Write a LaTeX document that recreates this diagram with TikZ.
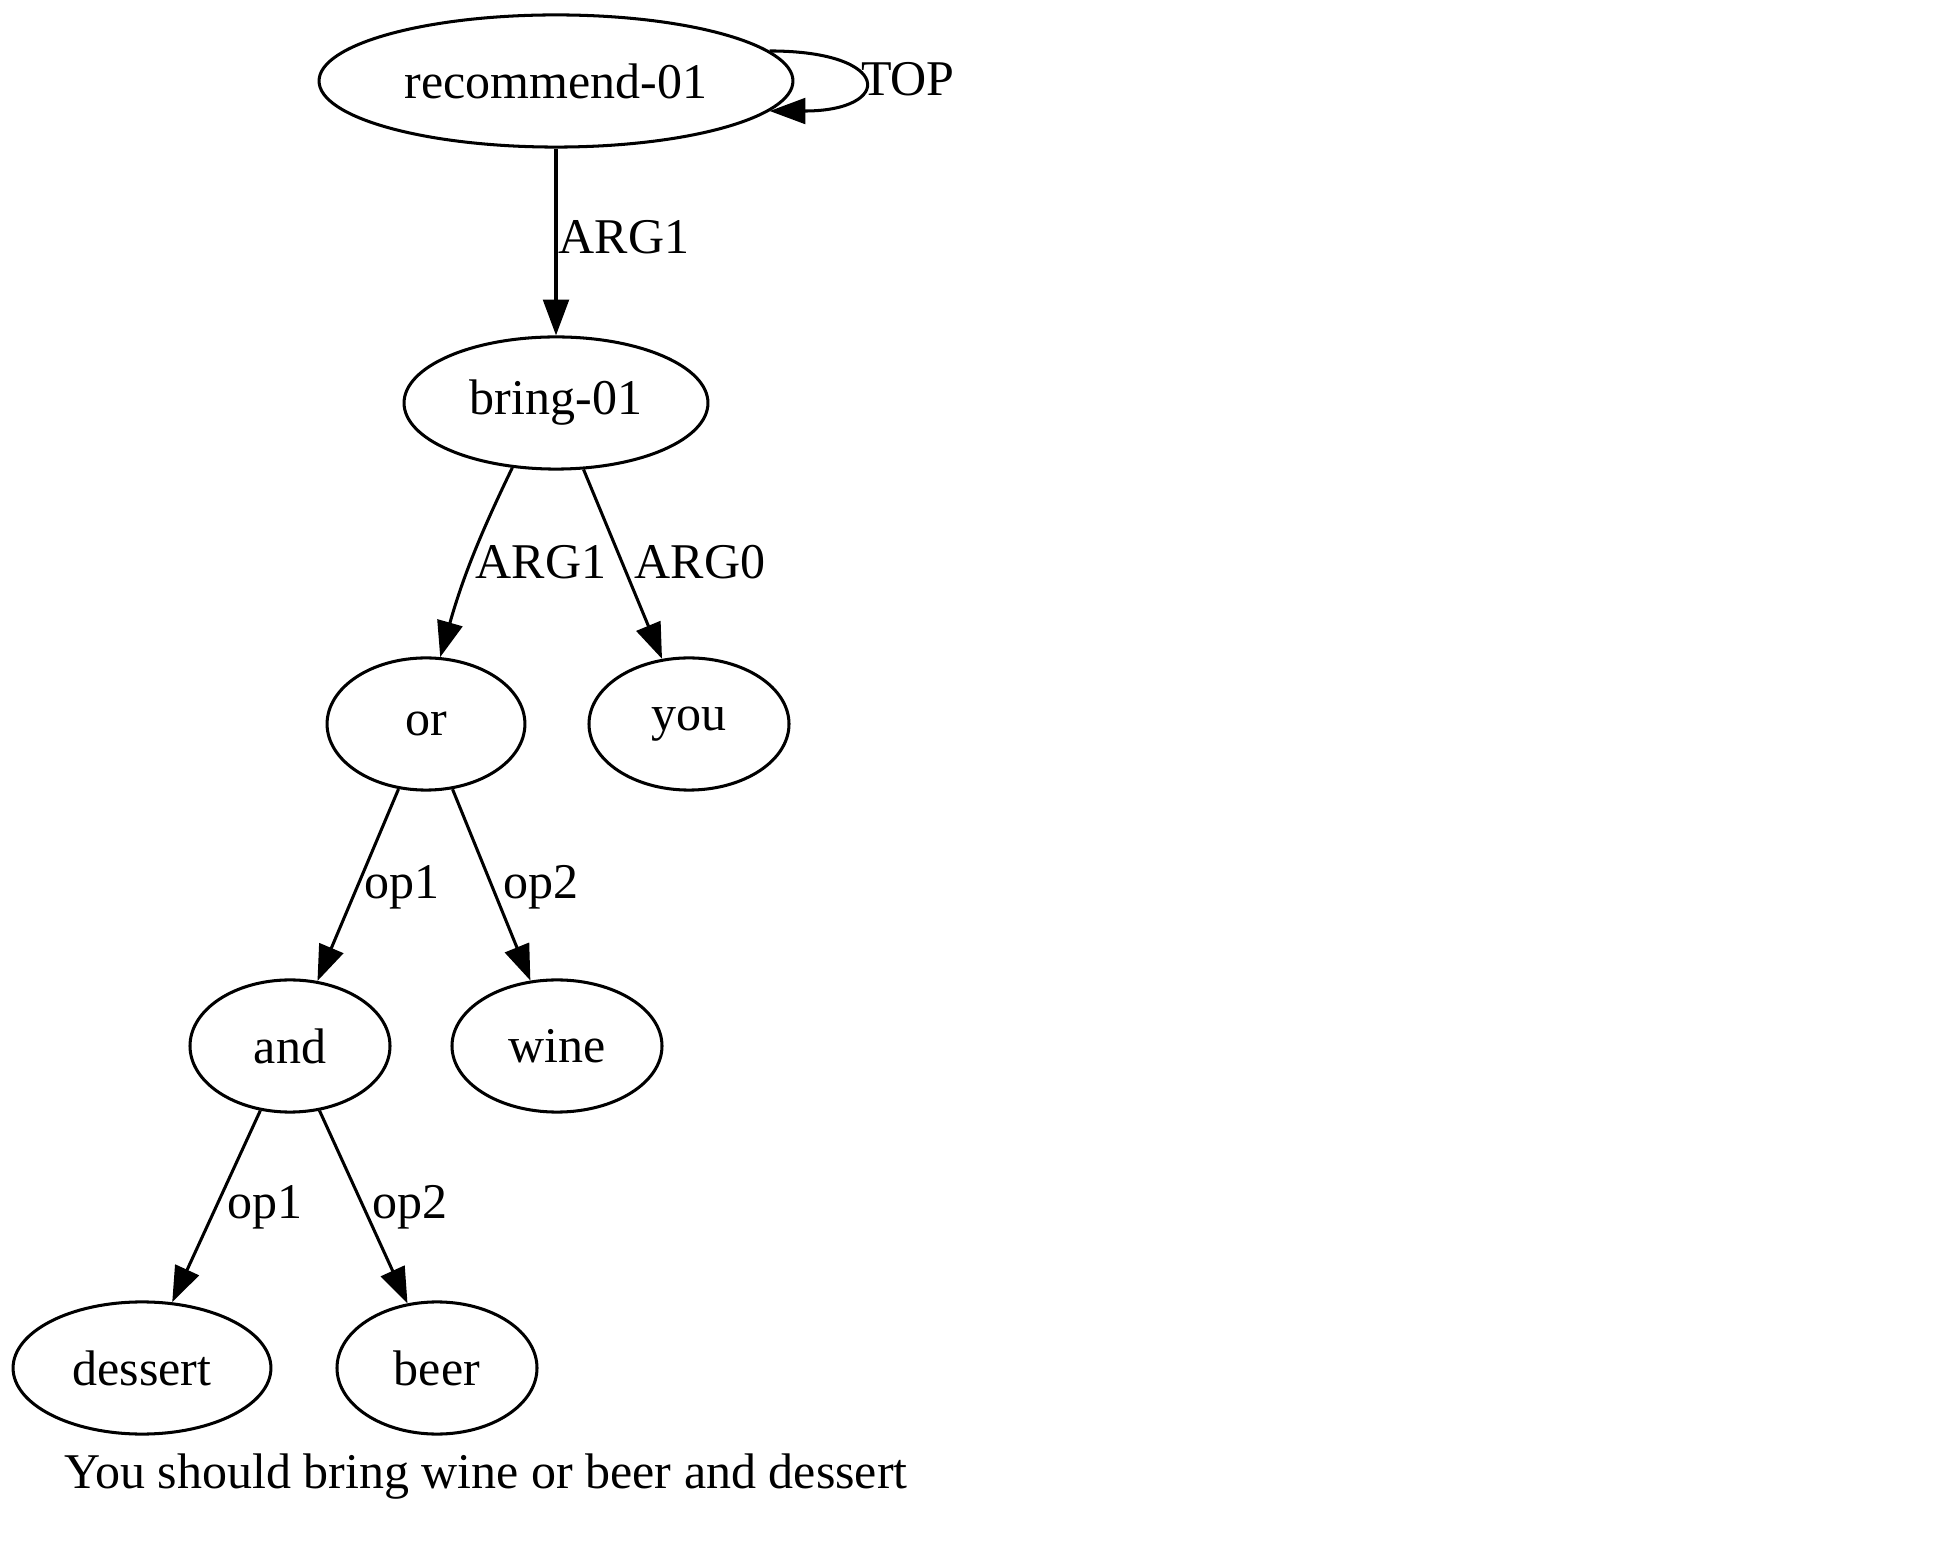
\documentclass[tikz,border=0pt]{standalone}
\usepackage{fontspec}
\setmainfont{Liberation Serif}
\usetikzlibrary{shapes.geometric,arrows.meta}

\tikzset{every picture/.style={line width=0.85pt}}
\tikzset{
  amr/.style={ellipse,draw,inner sep=0pt,minimum height=37pt,font=\fontsize{14}{16}\selectfont},
  rel/.style={-{Triangle[length=10pt,width=7.2pt]}},
  lbl/.style={inner sep=0pt,font=\fontsize{14}{16}\selectfont}
}

\begin{document}
\begin{tikzpicture}[x=0.28pt,y=0.28pt,yscale=-1,xscale=1]
	%set diagram left start at 0, and has height of 1562
	\useasboundingbox (0,0) rectangle (1958,1562);
	
	%Shape: Ellipse [id:rec]
	\node[amr,minimum width=132.7pt] (rec) at (556,81) {recommend-01};
	%Shape: Ellipse [id:bring]
	\node[amr,minimum width=85.1pt] (bring) at (556,403) {bring-01};
	%Shape: Ellipse [id:or]
	\node[amr,minimum width=55.4pt] (or) at (426,724) {or};
	%Shape: Ellipse [id:you]
	\node[amr,minimum width=56pt] (you) at (689,724) {you};
	%Shape: Ellipse [id:and]
	\node[amr,minimum width=56pt] (and) at (290,1046) {and};
	%Shape: Ellipse [id:wine]
	\node[amr,minimum width=58.8pt] (wine) at (557,1046) {wine};
	%Shape: Ellipse [id:dessert]
	\node[amr,minimum width=72.2pt] (dessert) at (142,1368) {dessert};
	%Shape: Ellipse [id:beer]
	\node[amr,minimum width=56pt] (beer) at (437,1368) {beer};
	
	%Straight Lines
	\draw[rel] (rec.8) to[out=0,in=0,looseness=5.3] (rec.-8);
	\draw[rel] (rec) -- (bring);
	\draw[rel] (bring.236) to[bend left=5] (or.78);
	\draw[rel] (bring) -- (you);
	\draw[rel] (or) -- (and);
	\draw[rel] (or) -- (wine);
	\draw[rel] (and) -- (dessert);
	\draw[rel] (and) -- (beer);
	
	% Text Node
	\node[lbl] (top) at (908,79) {TOP};
	% Text Node
	\node[lbl] (l1) at (624,237) {ARG1};
	% Text Node
	\node[lbl] (l2) at (541,562) {ARG1};
	% Text Node
	\node[lbl] (l3) at (700,562) {ARG0};
	% Text Node
	\node[lbl] (l4) at (402,887) {op1};
	% Text Node
	\node[lbl] (l5) at (541,887) {op2};
	% Text Node
	\node[lbl] (l6) at (265,1207) {op1};
	% Text Node
	\node[lbl] (l7) at (410,1207) {op2};
	% Text Node
	\node[lbl] (caption) at (486,1477) {You should bring wine or beer and dessert};
	
\end{tikzpicture}
\end{document}
